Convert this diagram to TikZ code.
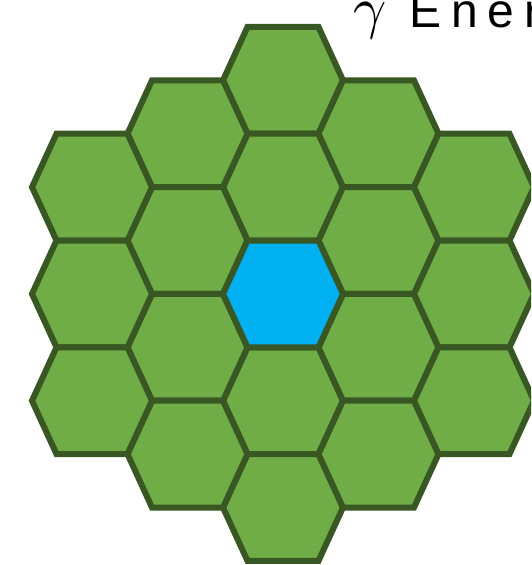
\documentclass[tikz,border=0pt]{standalone}
\usepackage{fontspec}
\usepackage{unicode-math}
\setmainfont{Liberation Sans}
\definecolor{hexgreen}{HTML}{70AD47}
\definecolor{hexline}{HTML}{385723}
\definecolor{hexblue}{HTML}{00B0F0}
\tikzset{
  hexshape/.pic={\path[pic actions] (-35.5,-53.4) -- (35.5,-53.4) -- (60,0) -- (35.5,53.4) -- (-35.5,53.4) -- (-60,0) -- cycle;},
  cell/.style={draw=hexline, fill=hexgreen, line width=6pt, line join=miter},
  centercell/.style={cell, fill=hexblue},
  titletext/.style={inner sep=0pt, anchor=base west},
}
\begin{document}
\begin{tikzpicture}[x=1pt, y=-1pt]
\useasboundingbox (0,0) rectangle (531,565);
\clip (0,0) rectangle (531,565);
% column 0
\foreach \yy in {80.3,187.1,400.7,507.5} \pic[cell] at (283,\yy) {hexshape};
% columns -1 and +1
\foreach \xx in {187.5,378.5}
  \foreach \yy in {133.7,240.5,347.3,454.1} \pic[cell] at (\xx,\yy) {hexshape};
% columns -2 and +2
\foreach \xx in {92,474}
  \foreach \yy in {187.1,293.9,400.7} \pic[cell] at (\xx,\yy) {hexshape};
% centre cell
\pic[centercell] at (283,293.9) {hexshape};
% title
\node[titletext] (title) at (353,27) {\fontsize{58pt}{60pt}\selectfont$\gamma$\hspace{23pt}\fontsize{48pt}{52pt}\selectfont E\kern10pt n\kern10pt e\kern10pt r};
\end{tikzpicture}
\end{document}
